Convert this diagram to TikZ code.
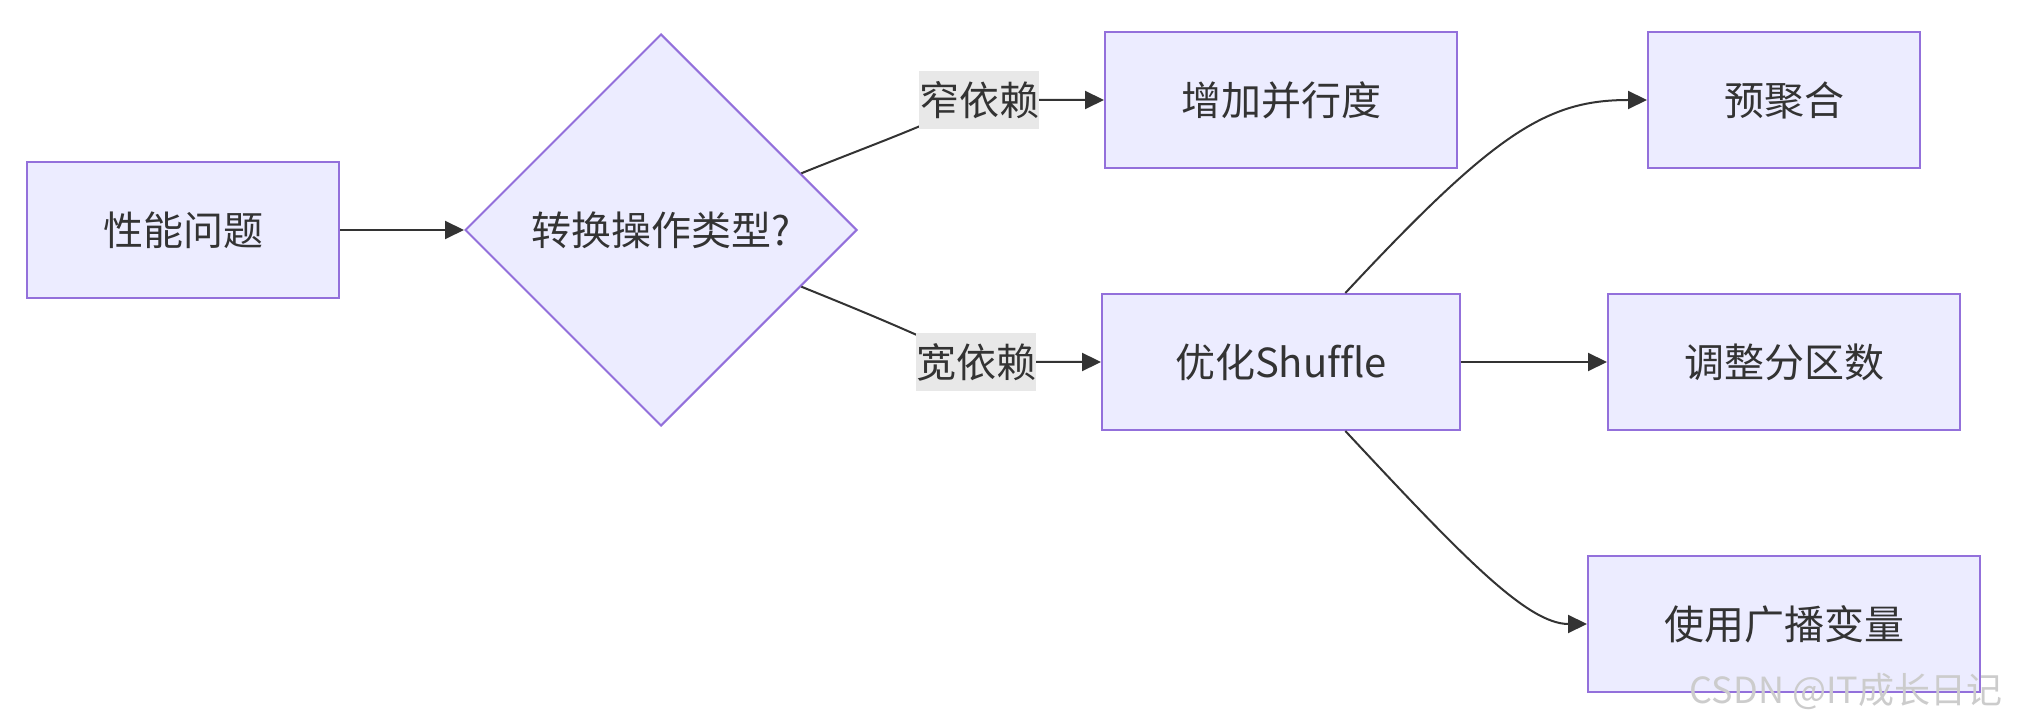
\documentclass[tikz,border=0pt]{standalone}
\usepackage{fontspec}
\setmainfont[Ligatures=NoCommon]{Noto Sans CJK SC}
\usetikzlibrary{positioning, arrows.meta, shapes.geometric}

\definecolor{boxfill}{HTML}{ECECFF}
\definecolor{boxline}{HTML}{9370DB}
\definecolor{inkgray}{HTML}{333333}
\definecolor{tagfill}{HTML}{E8E8E8}

\begin{document}
\begin{tikzpicture}[>={Triangle[length=9.5pt, width=9pt]}, node distance=62pt,
        font=\fontsize{20pt}{24pt}\selectfont, text=inkgray,
        stepbox/.style={rectangle, draw=boxline, fill=boxfill, line width=1pt, inner xsep=38pt, minimum height=68pt},
        ask/.style={diamond, aspect=1, draw=boxline, fill=boxfill, line width=1pt, inner sep=0pt, minimum width=196pt, minimum height=196pt},
        tag/.style={fill=tagfill, inner sep=0pt, minimum height=29pt},
        link/.style={->, draw=inkgray, line width=1pt}]
        \useasboundingbox (0,0) rectangle (1009pt,-363pt);

        \node (A) [stepbox] at (91.5pt,-115pt) {性能问题};
        \node (B) [ask, right=62pt of A] {转换操作类型?};
        \node (C) [stepbox, right=123pt of B, yshift=65pt] {增加并行度};
        \node (D) [stepbox, below=of C, inner xsep=36.5pt] {优化Shuffle};
        \node (E) [stepbox, right=94.5pt of C] {预聚合};
        \node (F) [stepbox, below=of E] {调整分区数};
        \node (G) [stepbox, below=of F] {使用广播变量};

        % label points
        \coordinate (n1) at ([xshift=-62.5pt]C.west);
        \coordinate (n2) at ([xshift=-62.5pt]D.west);

        \draw[link] (A) -- (B);
        \draw[link] (B.22) to[out=22, in=205] (n1) -- (C.west);
        \draw[link] (B.-22) to[out=-22, in=155] (n2) -- (D.west);
        \draw[link] (D.47) .. controls +(47:110pt) and +(-50pt,0) .. (E.west);
        \draw[link] (D) -- (F);
        \draw[link] (D.-47) .. controls +(-47:85pt) and +(-30pt,0) .. (G.west);

        \node (L1) [tag] at (n1) {窄依赖};
        \node (L2) [tag] at (n2) {宽依赖};

        \node (mark) [text=gray!40, font=\fontsize{18pt}{20pt}\selectfont] at (923pt,-346pt) {CSDN @IT成长日记};
\end{tikzpicture}
\end{document}
